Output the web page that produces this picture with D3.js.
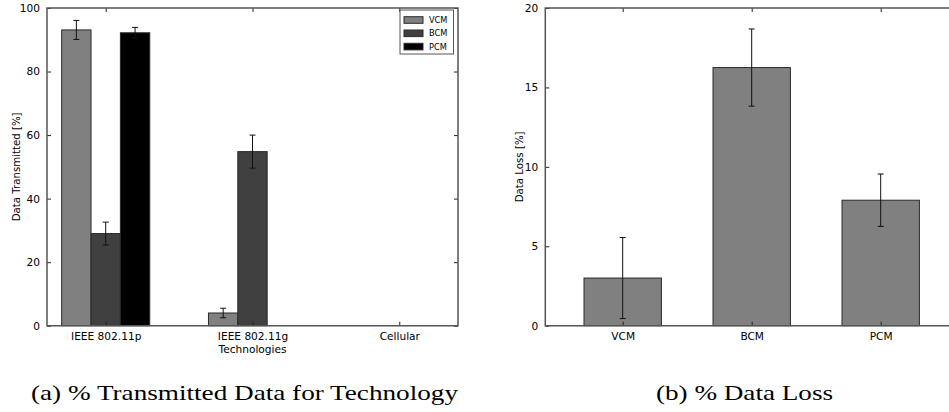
<!DOCTYPE html>
<html>
<head>
<meta charset="utf-8">
<script src="https://cdn.jsdelivr.net/npm/d3@7"></script>
<style>
  html, body { margin: 0; padding: 0; background: #fff; }
  svg { display: block; }
  text { font-family: "DejaVu Sans", sans-serif; fill: #000; }
  .caption { font-family: "Liberation Serif", "DejaVu Serif", serif; }
</style>
</head>
<body>
<svg id="fig" width="949" height="412"></svg>
<script>
// Panel (a): share of data transmitted per technology and scheme
const technologies = ["IEEE 802.11p", "IEEE 802.11g", "Cellular"];
const schemes = ["VCM", "BCM", "PCM"];
const schemeColors = ["#808080", "#404040", "#000000"];
const vcmTransmitted = [93.1, 4.0, 0];
const bcmTransmitted = [29.0, 54.8, 0];
const pcmTransmitted = [92.2, 0, 0];
const vcmTransmittedErr = [3.0, 1.5, 0];
const bcmTransmittedErr = [3.6, 5.2, 0];
const pcmTransmittedErr = [1.7, 0, 0];
const transmittedTicks = [0, 20, 40, 60, 80, 100];

// Panel (b): share of data lost per scheme
const lossSchemes = ["VCM", "BCM", "PCM"];
const lossValues = [3.0, 16.25, 7.9];
const lossErr = [2.55, 2.43, 1.65];
const lossTicks = [0, 5, 10, 15, 20];

const svg = d3.select("#fig");
const spineColor = "#555";
const tickLen = 4;
const labelSize = 10.6;

function frame(g, x0, x1, y0, y1, openRight) {
  const path = openRight
    ? `M${x1},${y0}H${x0}V${y1}H${x1}`
    : `M${x0},${y0}H${x1}V${y1}H${x0}Z`;
  g.append("path").attr("d", path).attr("fill", "none")
    .attr("stroke", spineColor).attr("stroke-width", 1.5);
}

function styleAxis(ax) {
  ax.select(".domain").remove();
  ax.selectAll(".tick line").attr("stroke", "#222").attr("stroke-width", 1);
  ax.selectAll(".tick text").attr("font-size", labelSize).attr("fill", "#000");
}

function errorBars(g, data, cap) {
  g.selectAll(null).data(data.filter(d => d.err > 0)).join("g")
    .each(function (d) {
      const e = d3.select(this);
      e.append("line").attr("x1", d.cx).attr("x2", d.cx)
        .attr("y1", d.yHi).attr("y2", d.yLo)
        .attr("stroke", "#111").attr("stroke-width", 1);
      [d.yHi, d.yLo].forEach(yy => e.append("line")
        .attr("x1", d.cx - cap).attr("x2", d.cx + cap)
        .attr("y1", yy).attr("y2", yy)
        .attr("stroke", "#111").attr("stroke-width", 1));
    });
}

// ---------- Panel (a) ----------
{
  const x = d3.scaleLinear().domain([-0.4, 2.4]).range([47, 458]);
  const y = d3.scaleLinear().domain([0, 100]).range([325.7, 8]);
  const g = svg.append("g");
  const barW = 0.2;
  const values = [vcmTransmitted, bcmTransmitted, pcmTransmitted];
  const errs = [vcmTransmittedErr, bcmTransmittedErr, pcmTransmittedErr];

  const bars = [];
  technologies.forEach((t, i) => {
    schemes.forEach((s, k) => {
      const left = i + (k - 1) * barW - barW / 2;
      bars.push({ left, v: values[k][i], err: errs[k][i], color: schemeColors[k] });
    });
  });

  g.selectAll("rect.bar").data(bars).join("rect").attr("class", "bar")
    .attr("x", d => x(d.left))
    .attr("width", d => x(d.left + barW) - x(d.left))
    .attr("y", d => y(d.v))
    .attr("height", d => y(0) - y(d.v))
    .attr("fill", d => d.color)
    .attr("stroke", "#2a2a2a").attr("stroke-width", 1);

  errorBars(g, bars.map(d => ({
    cx: x(d.left + barW / 2), err: d.err,
    yHi: y(d.v + d.err), yLo: y(d.v - d.err)
  })), 3);

  // axes with inward ticks on all four sides
  const yAx = g.append("g").attr("transform", `translate(${x(-0.4)},0)`)
    .call(d3.axisLeft(y).tickValues(transmittedTicks).tickSize(-tickLen).tickPadding(tickLen + 3));
  styleAxis(yAx);
  const yAxR = g.append("g").attr("transform", `translate(${x(2.4)},0)`)
    .call(d3.axisRight(y).tickValues(transmittedTicks).tickSize(-tickLen).tickFormat(""));
  styleAxis(yAxR);
  const xAx = g.append("g").attr("transform", `translate(0,${y(0)})`)
    .call(d3.axisBottom(x).tickValues([0, 1, 2]).tickSize(-tickLen).tickPadding(tickLen + 3)
      .tickFormat((d, i) => technologies[i]));
  styleAxis(xAx);
  const xAxT = g.append("g").attr("transform", `translate(0,${y(100)})`)
    .call(d3.axisTop(x).tickValues([0, 1, 2]).tickSize(-tickLen).tickFormat(""));
  styleAxis(xAxT);

  frame(g, x(-0.4), x(2.4), y(100), y(0), false);

  g.append("text").attr("x", x(1)).attr("y", 353).attr("text-anchor", "middle")
    .attr("font-size", labelSize).text("Technologies");
  g.append("text").attr("transform", `translate(20,${(y(0) + y(100)) / 2}) rotate(-90)`)
    .attr("text-anchor", "middle").attr("font-size", 10.2).text("Data Transmitted [%]");

  // legend
  const lg = g.append("g");
  lg.append("rect").attr("x", 400).attr("y", 10).attr("width", 53.5).attr("height", 44)
    .attr("fill", "#fff").attr("stroke", spineColor).attr("stroke-width", 1);
  schemes.forEach((s, k) => {
    const cy = 20 + k * 13.3;
    lg.append("rect").attr("x", 404).attr("y", cy - 3.3).attr("width", 19).attr("height", 6.6)
      .attr("fill", schemeColors[k]).attr("stroke", "#2a2a2a").attr("stroke-width", 1);
    lg.append("text").attr("x", 429).attr("y", cy + 3).attr("font-size", 8.2).text(s);
  });
}

// ---------- Panel (b) ----------
{
  const x = d3.scaleLinear().domain([-0.6, 2.6]).range([545.3, 958.1]);
  const y = d3.scaleLinear().domain([0, 20]).range([325.7, 8]);
  const g = svg.append("g");
  const barW = 0.6;
  const bars = lossSchemes.map((s, i) => ({ i, v: lossValues[i], err: lossErr[i] }));

  g.selectAll("rect.bar").data(bars).join("rect").attr("class", "bar")
    .attr("x", d => x(d.i - barW / 2))
    .attr("width", d => x(d.i + barW / 2) - x(d.i - barW / 2))
    .attr("y", d => y(d.v))
    .attr("height", d => y(0) - y(d.v))
    .attr("fill", "#808080")
    .attr("stroke", "#2a2a2a").attr("stroke-width", 1);

  errorBars(g, bars.map(d => ({
    cx: x(d.i), err: d.err, yHi: y(d.v + d.err), yLo: y(d.v - d.err)
  })), 3);

  const yAx = g.append("g").attr("transform", `translate(${x(-0.6)},0)`)
    .call(d3.axisLeft(y).tickValues(lossTicks).tickSize(-tickLen).tickPadding(tickLen + 3));
  styleAxis(yAx);
  const xAx = g.append("g").attr("transform", `translate(0,${y(0)})`)
    .call(d3.axisBottom(x).tickValues([0, 1, 2]).tickSize(-tickLen).tickPadding(tickLen + 3)
      .tickFormat((d, i) => lossSchemes[i]));
  styleAxis(xAx);
  const xAxT = g.append("g").attr("transform", `translate(0,${y(20)})`)
    .call(d3.axisTop(x).tickValues([0, 1, 2]).tickSize(-tickLen).tickFormat(""));
  styleAxis(xAxT);

  frame(g, x(-0.6), 960, y(20), y(0), true);

  g.append("text").attr("transform", `translate(523,${(y(0) + y(20)) / 2}) rotate(-90)`)
    .attr("text-anchor", "middle").attr("font-size", 10.2).text("Data Loss [%]");
}

// ---------- captions ----------
svg.append("text").attr("class", "caption").attr("x", 31).attr("y", 400)
  .attr("font-size", 21).attr("textLength", 427).attr("lengthAdjust", "spacingAndGlyphs")
  .text("(a) % Transmitted Data for Technology");
svg.append("text").attr("class", "caption").attr("x", 656).attr("y", 400)
  .attr("font-size", 21).attr("textLength", 177).attr("lengthAdjust", "spacingAndGlyphs")
  .text("(b) % Data Loss");
</script>
</body>
</html>
